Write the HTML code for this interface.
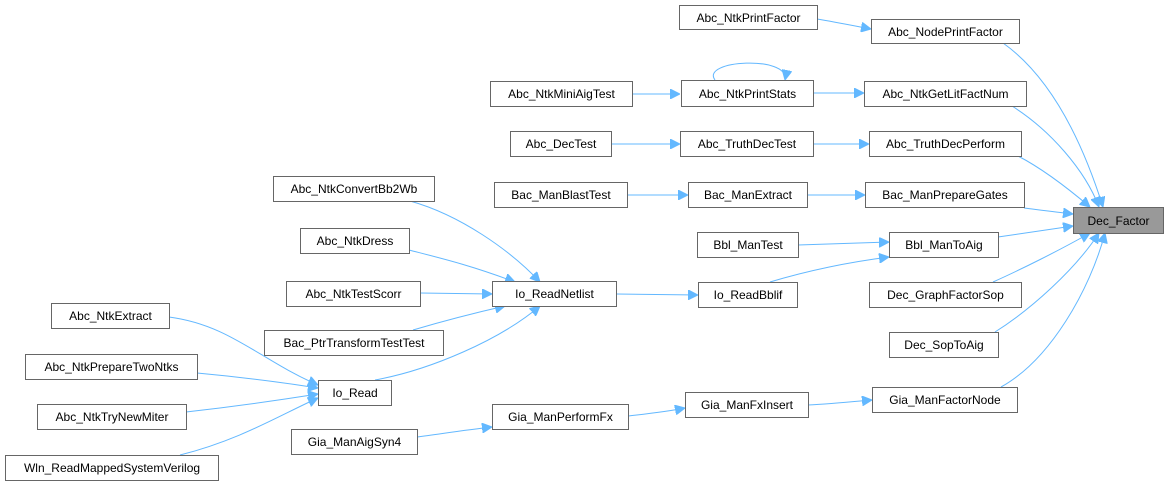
<!DOCTYPE html>
<html><head><meta charset="utf-8">
<style>
html,body{margin:0;padding:0;background:#fff;width:1168px;height:488px;overflow:hidden}
svg{display:block}
text{font-family:"Liberation Sans",Arial,sans-serif;font-size:12px;fill:#000}
rect{fill:#fff;stroke:#666;stroke-width:1}
path{fill:none;stroke:#63b8ff;stroke-width:1}
</style></head><body>
<svg width="1168" height="488" viewBox="0 0 1168 488" xmlns="http://www.w3.org/2000/svg">
<defs>
<marker id="a" viewBox="0 0 10 10" refX="10" refY="5" markerWidth="10" markerHeight="10" markerUnits="userSpaceOnUse" orient="auto">
<path d="M0,0 L10,5 L0,10 z" style="fill:#63b8ff;stroke:#63b8ff"/>
</marker>
</defs>
<g marker-end="url(#a)">
<!-- into Dec_Factor -->
<path d="M1003,43 C1055,80 1085,150 1103,207"/>
<path d="M1012,106 C1050,130 1085,170 1099,207"/>
<path d="M1018,156 C1045,170 1070,190 1090,207"/>
<path d="M1024,208 C1040,210 1055,212 1073,214"/>
<path d="M998,237 C1020,234 1045,230 1073,226"/>
<path d="M993,282 C1020,270 1060,250 1090,233"/>
<path d="M995,332 C1030,310 1075,270 1099,233"/>
<path d="M1001,387 C1050,360 1090,290 1105,233"/>
<!-- level 2 -->
<path d="M817,19 C835,22 850,25 871,29"/>
<path d="M813,93 L864,93"/>
<path d="M813,144 L869,144"/>
<path d="M807,195 L865,195"/>
<path d="M798,245 L889,242"/>
<path d="M770,282 C810,270 850,262 889,257"/>
<path d="M808,405 C830,404 850,402 872,400"/>
<!-- self loop -->
<path d="M715,80 C700,60 790,55 785,80"/>
<!-- level 3 -->
<path d="M632,94 L680,94"/>
<path d="M611,144 L680,144"/>
<path d="M627,195 L688,195"/>
<path d="M616,294 L698,295"/>
<path d="M628,416 C645,414 665,412 685,408"/>
<!-- into Io_ReadNetlist -->
<path d="M410,201 C460,215 510,250 540,282"/>
<path d="M409,250 C440,258 470,265 515,282"/>
<path d="M420,293 L492,294"/>
<path d="M413,330 C440,322 470,314 505,306"/>
<path d="M375,380 C430,370 500,340 540,306"/>
<!-- Io_Read / Gia -->
<path d="M169,317 C230,325 260,360 318,385"/>
<path d="M197,373 C240,377 280,382 318,388"/>
<path d="M186,412 C230,407 280,400 318,394"/>
<path d="M180,455 C240,440 280,415 318,398"/>
<path d="M417,437 C440,434 465,430 492,427"/>
</g>
<g>
<rect x="679.5" y="5.5" width="138" height="24"/><text x="748.5" y="22" text-anchor="middle">Abc_NtkPrintFactor</text>
<rect x="871.5" y="19.5" width="148" height="24"/><text x="945.5" y="36" text-anchor="middle">Abc_NodePrintFactor</text>
<rect x="490.5" y="81.5" width="142" height="25"/><text x="561.5" y="98" text-anchor="middle">Abc_NtkMiniAigTest</text>
<rect x="681.5" y="80.5" width="132" height="26"/><text x="747.5" y="98" text-anchor="middle">Abc_NtkPrintStats</text>
<rect x="864.5" y="81.5" width="162" height="25"/><text x="945.5" y="98" text-anchor="middle">Abc_NtkGetLitFactNum</text>
<rect x="510.5" y="131.5" width="101" height="25"/><text x="561" y="148" text-anchor="middle">Abc_DecTest</text>
<rect x="680.5" y="131.5" width="133" height="25"/><text x="747" y="148" text-anchor="middle">Abc_TruthDecTest</text>
<rect x="869.5" y="131.5" width="152" height="25"/><text x="945.5" y="148" text-anchor="middle">Abc_TruthDecPerform</text>
<rect x="273.5" y="176.5" width="161" height="25"/><text x="354" y="193" text-anchor="middle">Abc_NtkConvertBb2Wb</text>
<rect x="494.5" y="182.5" width="133" height="25"/><text x="561" y="199" text-anchor="middle">Bac_ManBlastTest</text>
<rect x="688.5" y="182.5" width="119" height="25"/><text x="748" y="199" text-anchor="middle">Bac_ManExtract</text>
<rect x="865.5" y="182.5" width="159" height="25"/><text x="945" y="199" text-anchor="middle">Bac_ManPrepareGates</text>
<rect x="1073.5" y="207.5" width="90" height="26" style="fill:#999"/><text x="1118.5" y="225" text-anchor="middle">Dec_Factor</text>
<rect x="300.5" y="228.5" width="109" height="25"/><text x="355" y="245" text-anchor="middle">Abc_NtkDress</text>
<rect x="697.5" y="232.5" width="101" height="25"/><text x="748" y="249" text-anchor="middle">Bbl_ManTest</text>
<rect x="889.5" y="232.5" width="109" height="25"/><text x="944" y="249" text-anchor="middle">Bbl_ManToAig</text>
<rect x="286.5" y="281.5" width="134" height="25"/><text x="353.5" y="298" text-anchor="middle">Abc_NtkTestScorr</text>
<rect x="492.5" y="281.5" width="124" height="25"/><text x="554.5" y="298" text-anchor="middle">Io_ReadNetlist</text>
<rect x="698.5" y="282.5" width="99" height="25"/><text x="748" y="299" text-anchor="middle">Io_ReadBblif</text>
<rect x="869.5" y="282.5" width="152" height="25"/><text x="945.5" y="299" text-anchor="middle">Dec_GraphFactorSop</text>
<rect x="51.5" y="303.5" width="118" height="25"/><text x="110.5" y="320" text-anchor="middle">Abc_NtkExtract</text>
<rect x="264.5" y="330.5" width="179" height="25"/><text x="354" y="347" text-anchor="middle">Bac_PtrTransformTestTest</text>
<rect x="889.5" y="332.5" width="109" height="25"/><text x="944" y="349" text-anchor="middle">Dec_SopToAig</text>
<rect x="25.5" y="354.5" width="172" height="25"/><text x="111.5" y="371" text-anchor="middle">Abc_NtkPrepareTwoNtks</text>
<rect x="318.5" y="380.5" width="73" height="25"/><text x="355" y="397" text-anchor="middle">Io_Read</text>
<rect x="37.5" y="404.5" width="149" height="25"/><text x="112" y="421" text-anchor="middle">Abc_NtkTryNewMiter</text>
<rect x="492.5" y="404.5" width="136" height="25"/><text x="560.5" y="421" text-anchor="middle">Gia_ManPerformFx</text>
<rect x="685.5" y="392.5" width="123" height="25"/><text x="747" y="409" text-anchor="middle">Gia_ManFxInsert</text>
<rect x="872.5" y="387.5" width="145" height="25"/><text x="945" y="404" text-anchor="middle">Gia_ManFactorNode</text>
<rect x="291.5" y="429.5" width="126" height="25"/><text x="354.5" y="446" text-anchor="middle">Gia_ManAigSyn4</text>
<rect x="5.5" y="455.5" width="213" height="25"/><text x="112" y="472" text-anchor="middle">Wln_ReadMappedSystemVerilog</text>
</g>
</svg>
</body></html>
